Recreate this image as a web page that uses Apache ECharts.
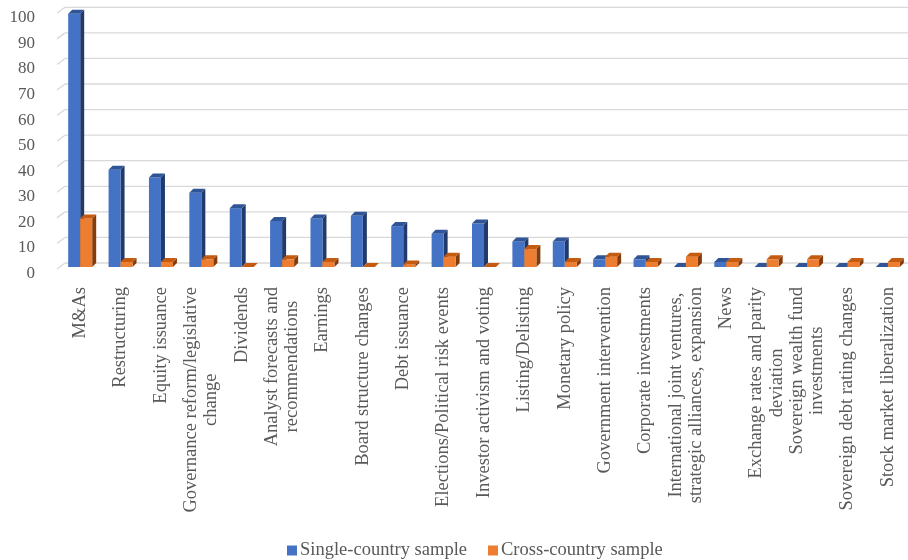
<!DOCTYPE html>
<html><head><meta charset="utf-8">
<script src="https://cdn.jsdelivr.net/npm/echarts@6/dist/echarts.min.js"></script>
<style>html,body{margin:0;padding:0;background:#fff}#c{width:908px;height:560px}</style>
</head><body><div id="c"></div>
<script>
const categories = ["M&As","Restructuring","Equity issuance","Governance reform/legislative\nchange","Dividends","Analyst forecasts and\nrecommendations","Earnings","Board structure changes","Debt issuance","Elections/Political risk events","Investor activism and voting","Listing/Delisting","Monetary policy","Government intervention","Corporate investments","International joint ventures,\nstrategic alliances, expansion","News","Exchange rates and parity\ndeviation","Sovereign wealth fund\ninvestments","Sovereign debt rating changes","Stock market liberalization"];
const singleCountry = [99,38,35,29,23,18,19,20,16,13,17,10,10,3,3,0,2,0,0,0,0];
const crossCountry = [19,2,2,3,0,3,2,0,1,4,0,7,2,4,2,4,2,3,3,2,2];
const yTicks = [0,10,20,30,40,50,60,70,80,90,100];

const FONT = "'Liberation Serif','Times New Roman',serif";
const DX = 4, DY = 4, BW = 12;

function barRenderer(offsetIdx, front, side, top) {
  return function (params, api) {
    const i = api.value(0), v = api.value(1);
    const p = api.coord([i, v]);
    const p0 = api.coord([i, 0]);
    const x0 = p[0] - BW + offsetIdx * BW;
    const yt = p[1] + DY, yb = p0[1] + DY;
    return {
      type: 'group',
      children: [
        { type: 'polygon', shape: { points: [[x0 + BW, yt], [x0 + BW + DX, yt - DY], [x0 + BW + DX, yb - DY], [x0 + BW, yb]] }, style: { fill: side } },
        { type: 'rect', shape: { x: x0, y: yt, width: BW, height: yb - yt }, style: { fill: front } },
        { type: 'polygon', shape: { points: [[x0, yt], [x0 + BW, yt], [x0 + BW + DX, yt - DY], [x0 + DX, yt - DY]] }, style: { fill: top } }
      ]
    };
  };
}

function wallRenderer(params, api) {
  const v = api.value(0);
  const p = api.coord([0, v]);
  const half = api.size([1, 0])[0] / 2;
  const L = p[0] - half;
  const y = p[1];
  return {
    type: 'group',
    children: [
      { type: 'line', shape: { x1: L - 3, y1: y + 6, x2: L + 5, y2: y }, style: { stroke: '#d9d9d9', lineWidth: 1.3 } },
      { type: 'line', shape: { x1: L + 5, y1: y, x2: 910, y2: y }, style: { stroke: '#d9d9d9', lineWidth: 1.3 } }
    ]
  };
}

const chart = echarts.init(document.getElementById('c'), null, { renderer: 'canvas' });
chart.setOption({
  animation: false,
  backgroundColor: '#ffffff',
  grid: { left: 60, top: 7.3, width: 853.6, height: 255.7, containLabel: false },
  legend: {
    data: ['Single-country sample', 'Cross-country sample'],
    left: 282, top: 536,
    icon: 'rect', itemWidth: 10, itemHeight: 10, itemGap: 21,
    textStyle: { fontFamily: FONT, fontSize: 18.5, color: '#595959', padding: [0, 0, 0, -2] }
  },
  xAxis: {
    type: 'category',
    data: categories,
    axisLine: { show: false },
    axisTick: { show: false },
    axisLabel: {
      interval: 0, rotate: 90, margin: 24,
      color: '#595959', fontFamily: FONT, fontSize: 18.5,
      formatter: function (val) { return val.split('\n').map(s => '{c|' + s + '}').join('\n'); },
      rich: { c: { align: 'center', fontFamily: FONT, fontSize: 18.5, color: '#595959', lineHeight: 20.5 } }
    }
  },
  yAxis: {
    type: 'value', min: 0, max: 100, interval: 10,
    axisLine: { show: false }, axisTick: { show: false },
    splitLine: { show: false },
    axisLabel: { margin: 25, color: '#595959', fontFamily: FONT, fontSize: 17, verticalAlign: 'top', padding: [2, 0, 0, 0] }
  },
  series: [
    {
      name: 'wall', type: 'custom', silent: true, z: 1,
      renderItem: wallRenderer,
      encode: { x: -1, y: 0 },
      data: yTicks.map(v => [v])
    },
    {
      name: 'Single-country sample', type: 'custom', z: 2,
      itemStyle: { color: '#4472C4' },
      renderItem: barRenderer(0, '#4472C4', '#213A6B', '#2F5597'),
      encode: { x: 0, y: 1 },
      data: singleCountry.map((v, i) => [i, v])
    },
    {
      name: 'Cross-country sample', type: 'custom', z: 3,
      itemStyle: { color: '#ED7D31' },
      renderItem: barRenderer(1, '#ED7D31', '#843C0C', '#C55A11'),
      encode: { x: 0, y: 1 },
      data: crossCountry.map((v, i) => [i, v])
    }
  ]
});
</script></body></html>
